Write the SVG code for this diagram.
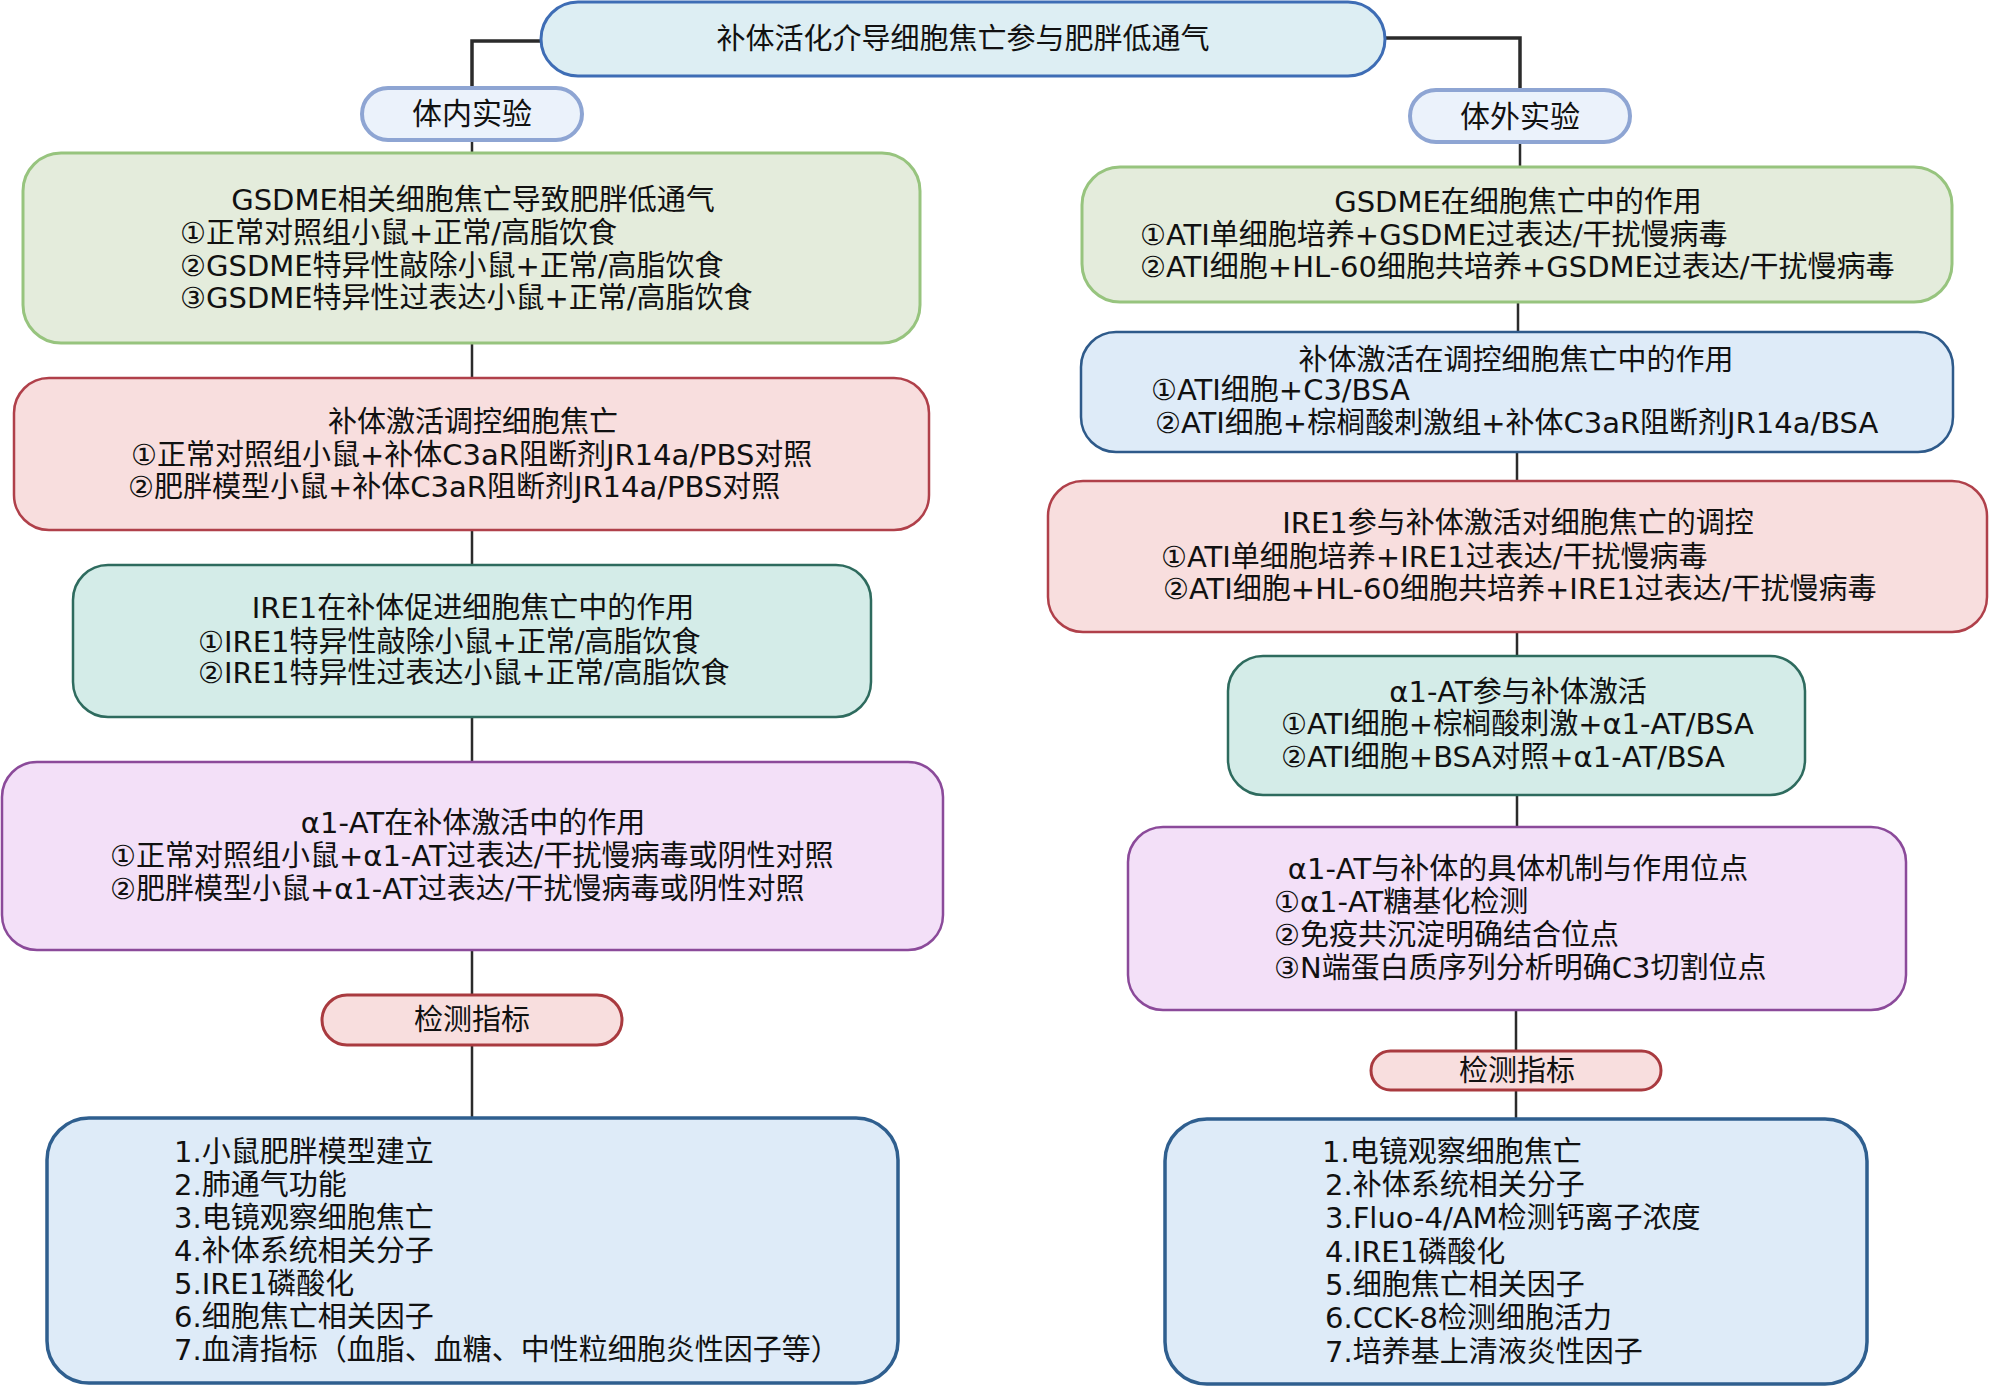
<svg xmlns="http://www.w3.org/2000/svg" width="2000" height="1400" viewBox="0 0 2000 1400">
<style>
text{font-family:"DejaVu Sans","Noto Sans CJK SC",sans-serif;font-size:29px;fill:#111}
.c{text-anchor:middle}
.big{font-size:30px}
.con{fill:none;stroke:#2b2b2b;stroke-width:2.5}
.con2{fill:none;stroke:#2b2b2b;stroke-width:3.5}
.top{fill:#ddeef3;stroke:#3e6db5;stroke-width:3}
.sec{fill:#ebf2fb;stroke:#8ea5d3;stroke-width:4}
.green{fill:#e4ecdc;stroke:#97c47e;stroke-width:3}
.pink{fill:#f8dede;stroke:#b0404a;stroke-width:2.5}
.teal{fill:#d4ece8;stroke:#2e6b5e;stroke-width:2.5}
.purple{fill:#f3e0f8;stroke:#8b4a9a;stroke-width:2.5}
.blue{fill:#deebf8;stroke:#2e5a8a;stroke-width:2.5}
.bot{fill:#deebf8;stroke:#2f5f8f;stroke-width:3.5}
.det{fill:#f8dede;stroke:#a93a3f;stroke-width:3}
</style>
<g id="connectors">
<path class="con2" d="M541,41 H472 V88"/>
<path class="con2" d="M1385,38 H1520 V90"/>
<path class="con" d="M472,140 V153 M472,343 V378 M472,530 V565 M472,717 V762 M472,950 V995 M472,1045 V1118"/>
<path class="con" d="M1520,142 V167 M1518,302 V332 M1517,452 V481 M1517,632 V656 M1517,795 V827 M1516,1010 V1051 M1516,1090 V1119"/>
</g>
<g id="n-title">
<rect class="top" x="541" y="2" width="844" height="74" rx="37"/>
<text class="c" x="963" y="49">补体活化介导细胞焦亡参与肥胖低通气</text>
</g>
<g id="n-invivo">
<rect class="sec" x="362" y="88" width="220" height="52" rx="26"/>
<text class="c big" x="472" y="124">体内实验</text>
</g>
<g id="n-invitro">
<rect class="sec" x="1410" y="90" width="220" height="52" rx="26"/>
<text class="c big" x="1520" y="127">体外实验</text>
</g>
<g id="n-l1">
<rect class="green" x="23" y="153" width="897" height="190" rx="38"/>
<text class="c" x="473" y="210">GSDME相关细胞焦亡导致肥胖低通气</text>
<text x="180" y="243">①正常对照组小鼠+正常/高脂饮食</text>
<text x="180" y="276">②GSDME特异性敲除小鼠+正常/高脂饮食</text>
<text x="180" y="308">③GSDME特异性过表达小鼠+正常/高脂饮食</text>
</g>
<g id="n-l2">
<rect class="pink" x="14" y="378" width="915" height="152" rx="35"/>
<text class="c" x="473" y="432">补体激活调控细胞焦亡</text>
<text x="131" y="465">①正常对照组小鼠+补体C3aR阻断剂JR14a/PBS对照</text>
<text x="128" y="497">②肥胖模型小鼠+补体C3aR阻断剂JR14a/PBS对照</text>
</g>
<g id="n-l3">
<rect class="teal" x="73" y="565" width="798" height="152" rx="35"/>
<text class="c" x="473" y="618">IRE1在补体促进细胞焦亡中的作用</text>
<text x="198" y="652">①IRE1特异性敲除小鼠+正常/高脂饮食</text>
<text x="198" y="683">②IRE1特异性过表达小鼠+正常/高脂饮食</text>
</g>
<g id="n-l4">
<rect class="purple" x="2" y="762" width="941" height="188" rx="35"/>
<text class="c" x="473" y="833">α1-AT在补体激活中的作用</text>
<text x="110" y="866">①正常对照组小鼠+α1-AT过表达/干扰慢病毒或阴性对照</text>
<text x="110" y="899">②肥胖模型小鼠+α1-AT过表达/干扰慢病毒或阴性对照</text>
</g>
<g id="n-l-det">
<rect class="det" x="322" y="995" width="300" height="50" rx="25"/>
<text class="c" x="472" y="1030">检测指标</text>
</g>
<g id="n-l-ind">
<rect class="bot" x="47" y="1118" width="851" height="265" rx="42"/>
<text x="174" y="1162">1.小鼠肥胖模型建立</text>
<text x="174" y="1195">2.肺通气功能</text>
<text x="174" y="1228">3.电镜观察细胞焦亡</text>
<text x="174" y="1261">4.补体系统相关分子</text>
<text x="174" y="1294">5.IRE1磷酸化</text>
<text x="174" y="1327">6.细胞焦亡相关因子</text>
<text x="174" y="1360">7.血清指标（血脂、血糖、中性粒细胞炎性因子等）</text>
</g>
<g id="n-r1">
<rect class="green" x="1082" y="167" width="870" height="135" rx="38"/>
<text class="c" x="1518" y="212">GSDME在细胞焦亡中的作用</text>
<text x="1140" y="245">①ATI单细胞培养+GSDME过表达/干扰慢病毒</text>
<text x="1140" y="277">②ATI细胞+HL-60细胞共培养+GSDME过表达/干扰慢病毒</text>
</g>
<g id="n-r2">
<rect class="blue" x="1081" y="332" width="872" height="120" rx="35"/>
<text class="c" x="1516" y="370">补体激活在调控细胞焦亡中的作用</text>
<text x="1151" y="400">①ATI细胞+C3/BSA</text>
<text x="1155" y="433">②ATI细胞+棕榈酸刺激组+补体C3aR阻断剂JR14a/BSA</text>
</g>
<g id="n-r3">
<rect class="pink" x="1048" y="481" width="939" height="151" rx="35"/>
<text class="c" x="1518" y="533">IRE1参与补体激活对细胞焦亡的调控</text>
<text x="1161" y="567">①ATI单细胞培养+IRE1过表达/干扰慢病毒</text>
<text x="1163" y="599">②ATI细胞+HL-60细胞共培养+IRE1过表达/干扰慢病毒</text>
</g>
<g id="n-r4">
<rect class="teal" x="1228" y="656" width="577" height="139" rx="35"/>
<text class="c" x="1518" y="702">α1-AT参与补体激活</text>
<text x="1281" y="734">①ATI细胞+棕榈酸刺激+α1-AT/BSA</text>
<text x="1281" y="767">②ATI细胞+BSA对照+α1-AT/BSA</text>
</g>
<g id="n-r5">
<rect class="purple" x="1128" y="827" width="778" height="183" rx="35"/>
<text class="c" x="1518" y="879">α1-AT与补体的具体机制与作用位点</text>
<text x="1274" y="912">①α1-AT糖基化检测</text>
<text x="1274" y="945">②免疫共沉淀明确结合位点</text>
<text x="1274" y="978">③N端蛋白质序列分析明确C3切割位点</text>
</g>
<g id="n-r-det">
<rect class="det" x="1371" y="1051" width="290" height="39" rx="19.5"/>
<text class="c" x="1517" y="1081">检测指标</text>
</g>
<g id="n-r-ind">
<rect class="bot" x="1165" y="1119" width="702" height="265" rx="42"/>
<text x="1322" y="1162">1.电镜观察细胞焦亡</text>
<text x="1325" y="1195">2.补体系统相关分子</text>
<text x="1325" y="1228">3.Fluo-4/AM检测钙离子浓度</text>
<text x="1325" y="1262">4.IRE1磷酸化</text>
<text x="1325" y="1295">5.细胞焦亡相关因子</text>
<text x="1325" y="1328">6.CCK-8检测细胞活力</text>
<text x="1325" y="1362">7.培养基上清液炎性因子</text>
</g>
</svg>
